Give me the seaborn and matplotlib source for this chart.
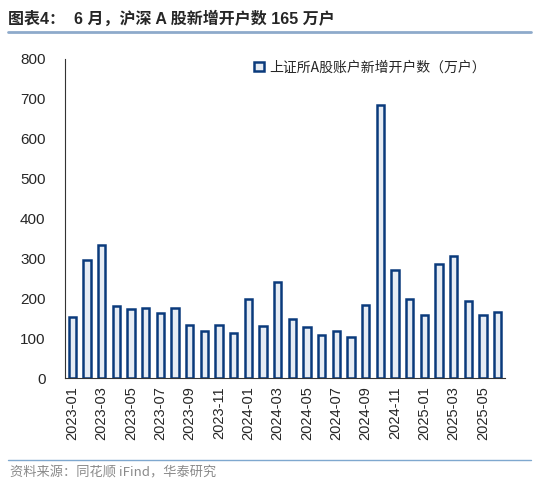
import numpy as np
import pandas as pd
import seaborn as sns
import matplotlib.pyplot as plt

months = ['2023-01', '2023-02', '2023-03', '2023-04', '2023-05', '2023-06',
          '2023-07', '2023-08', '2023-09', '2023-10', '2023-11', '2023-12',
          '2024-01', '2024-02', '2024-03', '2024-04', '2024-05', '2024-06',
          '2024-07', '2024-08', '2024-09', '2024-10', '2024-11', '2024-12',
          '2025-01', '2025-02', '2025-03', '2025-04', '2025-05', '2025-06']
new_accounts = [153, 296, 333, 181, 173, 176, 163, 175, 133, 118, 134, 114,
                197, 131, 242, 148, 127, 109, 117, 102, 183, 685, 270, 199,
                158, 285, 307, 193, 157, 165]
series_name = '上证所A股账户新增开户数（万户）'
title = '图表4：  6 月，沪深 A 股新增开户数 165 万户'
source = '资料来源：同花顺 iFind，华泰研究'

sns.set_style('white')
plt.rcParams['font.family'] = ['Liberation Sans', 'Noto Sans CJK SC', 'DejaVu Sans']

navy = '#0a3a7c'
df = pd.DataFrame({'month': months, 'value': new_accounts})

fig = plt.figure(figsize=(5.5, 5.0), dpi=100)
ax = fig.add_axes([0.118, 0.244, 0.80, 0.638])
sns.barplot(x='month', y='value', data=df, ax=ax, width=0.5,
            color='#e4ecf6', edgecolor=navy, linewidth=1.8,
            label=series_name)

ax.set_xlim(-0.5, len(months) - 0.5)
ax.set_ylim(0, 800)
ax.set_yticks(np.arange(0, 801, 100))
ax.set_xticks(np.arange(0, len(months), 2))
ax.set_xticklabels(months[::2], rotation=90, fontsize=10.5)
ax.set_xticks(np.arange(-0.5, len(months), 2), minor=True)
ax.tick_params(axis='x', which='major', length=0, pad=6)
ax.tick_params(axis='x', which='minor', length=4, width=0.8, direction='out', color='#333333')
ax.tick_params(axis='y', length=4, width=0.8, direction='out', color='#333333',
               labelsize=11, pad=10)
ax.set_xlabel('')
ax.set_ylabel('')
for side in ['top', 'right']:
    ax.spines[side].set_visible(False)
for side in ['left', 'bottom']:
    ax.spines[side].set_color('#333333')
    ax.spines[side].set_linewidth(0.8)

leg = ax.legend(loc='upper right', bbox_to_anchor=(0.985, 1.035), frameon=False,
                handlelength=0.7, handleheight=0.7, handletextpad=0.4,
                prop={'family': ['Noto Sans CJK SC', 'DejaVu Sans'], 'size': 10})

fig.text(0.015, 0.962, title, fontsize=11.5, fontweight='bold',
         family=['Liberation Sans', 'Noto Sans CJK SC'], va='center', ha='left')
fig.add_artist(plt.Line2D([0.015, 0.965], [0.936, 0.936], color='#8eaacb', linewidth=2))
fig.add_artist(plt.Line2D([0.015, 0.965], [0.080, 0.080], color='#7fa8cf', linewidth=1))
fig.text(0.018, 0.054, source, fontsize=9.5, color='#8a8a8a',
         family=['Noto Sans CJK SC', 'DejaVu Sans'], va='center', ha='left')

fig.savefig('out.png', dpi=100)
